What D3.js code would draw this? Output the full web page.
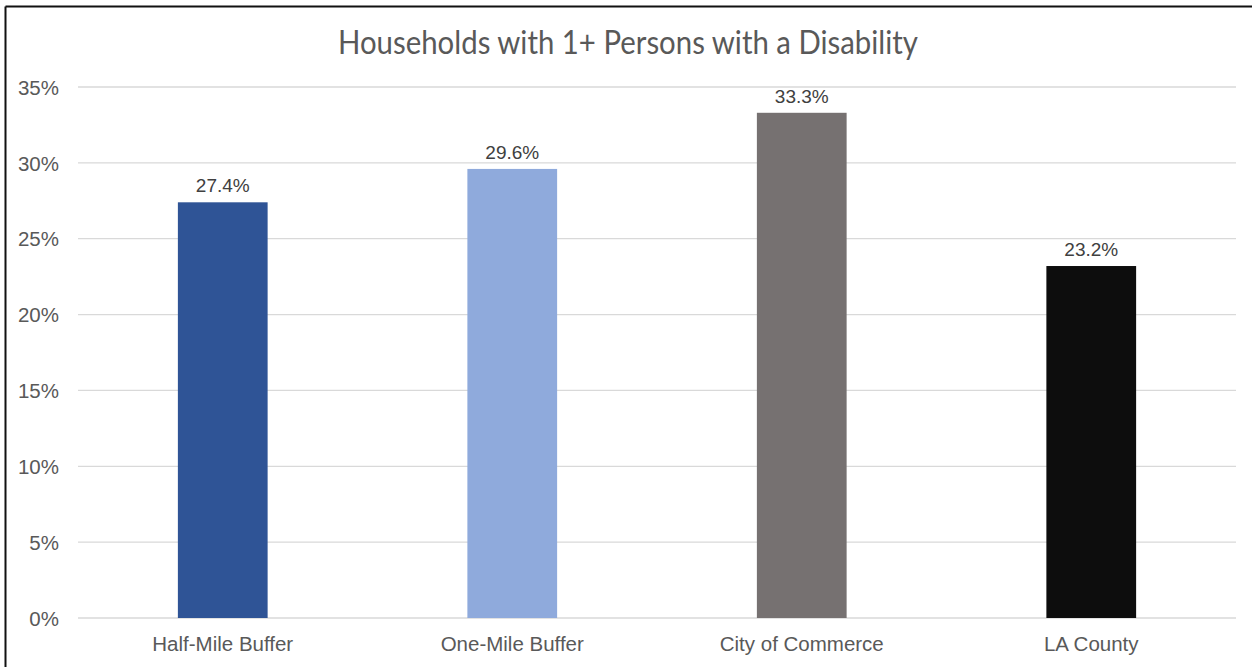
<!DOCTYPE html>
<html><head><meta charset="utf-8">
<script src="https://cdn.jsdelivr.net/npm/d3@7"></script>
<style>body{margin:0;background:#fff}svg{display:block}</style>
</head><body>
<svg id="c" width="1252" height="667"></svg>
<script>
const categories = ["Half-Mile Buffer","One-Mile Buffer","City of Commerce","LA County"];
const values = [27.4, 29.6, 33.3, 23.2];
const valueLabels = ["27.4%","29.6%","33.3%","23.2%"];
const barColors = ["#2F5496","#8FAADC","#767171","#0D0D0D"];
const yTicks = [0,5,10,15,20,25,30,35];
const title = "Households with 1+ Persons with a Disability";

const svg = d3.select("#c");
svg.append("rect").attr("x",0).attr("y",0).attr("width",1252).attr("height",667).attr("fill","#fff");
// outer frame (top & left visible)
svg.append("line").attr("x1",5.5).attr("x2",1252).attr("y1",6.5).attr("y2",6.5).attr("stroke","#111").attr("stroke-width",2);
svg.append("line").attr("x1",5.5).attr("x2",5.5).attr("y1",6.5).attr("y2",667).attr("stroke","#111").attr("stroke-width",2);

const x = d3.scaleBand().domain(categories).range([78,1236]).paddingInner(0.69).paddingOuter(0.345);
const y = d3.scaleLinear().domain([0,35]).range([618,87]);

const grid = svg.append("g");
grid.selectAll("line").data(yTicks).join("line")
  .attr("x1",78).attr("x2",1236)
  .attr("y1",d=>y(d)).attr("y2",d=>y(d))
  .attr("stroke","#d9d9d9").attr("stroke-width",1.3);

const yAxis = d3.axisLeft(y).tickValues(yTicks).tickFormat(d=>d+"%").tickSize(0).tickPadding(0);
const ya = svg.append("g").attr("transform","translate(59,0)").call(yAxis);
ya.select(".domain").remove();
ya.selectAll("text").attr("font-family","Liberation Sans, Arial, sans-serif").attr("font-size",20.5).attr("fill","#595959").attr("dy","0.35em");

svg.selectAll("rect.bar").data(values).join("rect").attr("class","bar")
  .attr("x",(d,i)=>x(categories[i]))
  .attr("width",x.bandwidth())
  .attr("y",d=>y(d))
  .attr("height",d=>y(0)-y(d))
  .attr("fill",(d,i)=>barColors[i]);

svg.selectAll("text.val").data(values).join("text").attr("class","val")
  .attr("x",(d,i)=>x(categories[i])+x.bandwidth()/2)
  .attr("y",d=>y(d)-10)
  .attr("text-anchor","middle")
  .attr("font-family","Liberation Sans, Arial, sans-serif").attr("font-size",19).attr("fill","#404040")
  .text((d,i)=>valueLabels[i]);

const xAxis = d3.axisBottom(x).tickSize(0).tickPadding(0);
const xa = svg.append("g").attr("transform","translate(0,618)").call(xAxis);
xa.select(".domain").remove();
xa.selectAll("text").attr("font-family","Liberation Sans, Arial, sans-serif").attr("font-size",20.5).attr("fill","#595959").attr("dy","1.6em");

svg.append("text").attr("x",628).attr("y",54).attr("text-anchor","middle")
  .attr("font-family","Lato, 'Open Sans', sans-serif").attr("font-weight",400).attr("font-size",33).attr("fill","#595959")
  .attr("textLength",580).attr("lengthAdjust","spacingAndGlyphs")
  .text(title);
</script>
</body></html>
